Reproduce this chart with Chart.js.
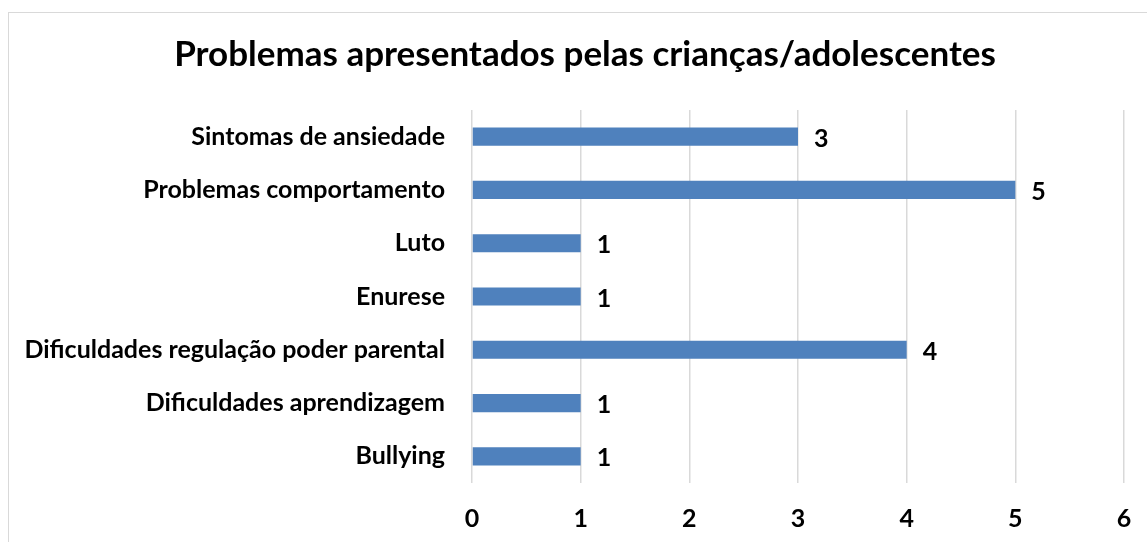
<!DOCTYPE html>
<html>
<head>
<meta charset="utf-8">
<script src="https://cdn.jsdelivr.net/npm/chart.js@4.4.1/dist/chart.umd.min.js"></script>
<style>
  html, body { margin: 0; padding: 0; background: #ffffff; overflow: hidden; }
  #frame { position: absolute; left: 8px; top: 12px; width: 1160px; height: 560px; border: 1.5px solid #d9d9d9; box-sizing: border-box; }
  #wrap { position: absolute; left: 0; top: 0; width: 1147px; height: 542px; }
</style>
</head>
<body>
<div id="frame"></div>
<div id="wrap"><canvas id="c" width="1147" height="542"></canvas></div>
<script>
const titleText = 'Problemas apresentados pelas crianças/adolescentes';
const categories = [
  'Sintomas de ansiedade',
  'Problemas comportamento',
  'Luto',
  'Enurese',
  'Dificuldades regulação poder parental',
  'Dificuldades aprendizagem',
  'Bullying'
];
const values = [3, 5, 1, 1, 4, 1, 1];
const xTicks = [0, 1, 2, 3, 4, 5, 6];

const FONT = 'Lato, "Open Sans", sans-serif';

const titleDraw = {
  id: 'titleDraw',
  afterDraw(chart) {
    const ctx = chart.ctx;
    ctx.save();
    ctx.font = 'bold 35px ' + FONT;
    ctx.fillStyle = '#000000';
    ctx.textAlign = 'center';
    ctx.textBaseline = 'middle';
    ctx.fillText(titleText, 585, 55);
    ctx.restore();
  }
};

const valueLabels = {
  id: 'valueLabels',
  afterDatasetsDraw(chart) {
    const ctx = chart.ctx;
    const meta = chart.getDatasetMeta(0);
    ctx.save();
    ctx.font = 'bold 25px ' + FONT;
    ctx.fillStyle = '#000000';
    ctx.textAlign = 'left';
    ctx.textBaseline = 'middle';
    meta.data.forEach((bar, i) => {
      ctx.fillText(String(values[i]), bar.x + 16, bar.y + 2);
    });
    ctx.restore();
  }
};

new Chart(document.getElementById('c'), {
  type: 'bar',
  data: {
    labels: categories,
    datasets: [{
      data: values,
      backgroundColor: '#4F81BD',
      borderWidth: 0,
      barPercentage: 0.68,
      categoryPercentage: 0.5
    }]
  },
  options: {
    indexAxis: 'y',
    responsive: false,
    animation: false,
    devicePixelRatio: 1,
    layout: { padding: { left: 0, right: 23, top: 110, bottom: 0 } },
    plugins: {
      legend: { display: false },
      tooltip: { enabled: false },
      title: { display: false }
    },
    scales: {
      x: {
        min: 0,
        max: 6,
        afterBuildTicks(scale) { scale.ticks = xTicks.map(v => ({ value: v })); },
        afterFit(scale) { scale.height = 59; scale.paddingRight = 0; scale.paddingLeft = 0; },
        grid: { color: '#d9d9d9', lineWidth: 1.5, drawTicks: false },
        border: { display: false },
        ticks: {
          color: '#000000',
          font: { family: FONT, size: 25, weight: 'bold' },
          padding: 21
        }
      },
      y: {
        grid: { display: false, drawTicks: false },
        border: { display: false },
        afterFit(scale) { scale.width = 472; },
        ticks: {
          color: '#000000',
          font: { family: FONT, size: 25, weight: 'bold' },
          padding: 27
        }
      }
    }
  },
  plugins: [valueLabels, titleDraw]
});
</script>
</body>
</html>
